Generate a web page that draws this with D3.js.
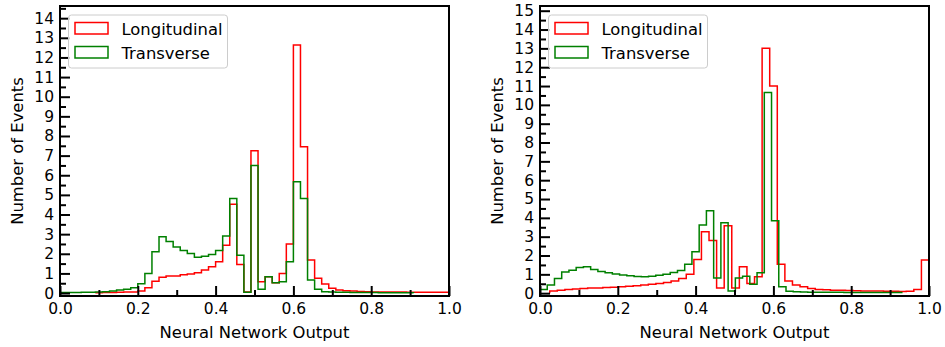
<!DOCTYPE html>
<html>
<head>
<meta charset="utf-8">
<script src="https://cdn.jsdelivr.net/npm/d3@7"></script>
<style>
body { margin:0; background:#fff; }
svg text { font-family:"DejaVu Sans", sans-serif; fill:#000; }
</style>
</head>
<body>
<div id="chart"></div>
<script>
//DATA
//bin ranges [start, end], 50 bins each
const leftRedRange    = [0.0909, 1.0];
const leftGreenRange  = [0.0, 0.9091];
const rightRedRange   = [0.025, 1.0];
const rightGreenRange = [0.0, 0.93];

const leftRed = [
  0.02, 0.03, 0.03, 0.04, 0.05, 0.06, 0.1, 0.27, 0.6, 0.8,
  0.87, 0.87, 0.93, 0.97, 1.03, 1.17, 1.34, 1.6, 2.44, 4.52,
  1.46, 0.05, 7.25, 0.58, 0.83, 0.53, 1.0, 2.5, 12.63, 7.45,
  1.68, 0.75, 0.46, 0.24, 0.15, 0.12, 0.1, 0.08, 0.07, 0.06,
  0.05, 0.05, 0.05, 0.05, 0.04, 0.04, 0.04, 0.04, 0.04, 0.04];
const leftGreen = [
  0.03, 0.03, 0.03, 0.04, 0.04, 0.05, 0.07, 0.1, 0.15, 0.2,
  0.27, 0.48, 1.0, 2.1, 2.87, 2.62, 2.35, 2.17, 2.02, 1.82,
  1.87, 1.97, 2.17, 2.9, 4.82, 1.93, 0.04, 6.5, 0.2, 0.83,
  0.53, 0.58, 1.6, 5.67, 4.82, 0.66, 0.2, 0.07, 0.05, 0.04,
  0.04, 0.03, 0.03, 0.03, 0.03, 0.02, 0.02, 0.02, 0.02, 0.02];
const rightRed = [
  0.12, 0.15, 0.2, 0.22, 0.25, 0.27, 0.28, 0.3, 0.32, 0.34,
  0.37, 0.4, 0.44, 0.48, 0.52, 0.57, 0.65, 0.78, 1.0, 1.79,
  3.26, 2.8, 0.28, 3.58, 0.28, 1.4, 0.52, 0.87, 13.0, 11.0,
  1.53, 0.64, 0.43, 0.34, 0.25, 0.2, 0.18, 0.16, 0.15, 0.14,
  0.13, 0.12, 0.12, 0.11, 0.1, 0.1, 0.09, 0.1, 0.2, 1.76];
const rightGreen = [
  0.2, 0.43, 0.78, 1.13, 1.22, 1.37, 1.4, 1.26, 1.15, 1.08,
  1.02, 0.97, 0.92, 0.88, 0.87, 0.9, 0.95, 1.0, 1.1, 1.2,
  1.53, 2.2, 3.62, 4.38, 0.81, 3.74, 0.12, 0.81, 0.9, 0.48,
  1.08, 10.65, 3.85, 0.34, 0.1, 0.07, 0.06, 0.05, 0.05, 0.05,
  0.05, 0.05, 0.04, 0.04, 0.04, 0.04, 0.04, 0.04, 0.04, 0.04];

const seriesNames = ["Longitudinal", "Transverse"];
const xTicks      = [0, 0.2, 0.4, 0.6, 0.8, 1.0];
const xMinorTicks = [0.1, 0.3, 0.5, 0.7, 0.9];
const leftYTicks  = d3.range(0, 15);
const rightYTicks = d3.range(0, 16);
const xLabel = "Neural Network Output";
const yLabel = "Number of Events";

//LAYOUT
const W = 945, H = 347;
const plotTop = 6, plotH = 290, plotW = 389;
const colors = ["#ff0000", "#008000"];

const svg = d3.select("#chart").append("svg")
  .attr("width", W).attr("height", H);

function drawPanel(x0, yMax, yTicks, red, redRange, green, greenRange){
  const g = svg.append("g").attr("transform", `translate(${x0},${plotTop})`);
  const x = d3.scaleLinear().domain([0, 1]).range([0, plotW]);
  const y = d3.scaleLinear().domain([-0.15, yMax]).range([plotH, 0]);

  //clip
  const id = "clip" + x0;
  g.append("clipPath").attr("id", id).append("rect")
    .attr("width", plotW).attr("height", plotH);

  //step histograms
  const line = d3.line().x(d => x(d[0])).y(d => y(d[1])).curve(d3.curveStepAfter);
  function steps(vals, range){
    const w = (range[1] - range[0]) / vals.length;
    const pts = [[range[0], 0]];
    vals.forEach((v, i) => pts.push([range[0] + i * w, v]));
    pts.push([range[1], 0]);
    return pts;
  }
  const hg = g.append("g").attr("clip-path", `url(#${id})`);
  [[red, redRange], [green, greenRange]].forEach((s, i) => {
    hg.append("path").attr("d", line(steps(s[0], s[1])))
      .attr("fill", "none").attr("stroke", colors[i]).attr("stroke-width", 1.5);
  });

  //axes, ticks inward
  g.append("g").attr("transform", `translate(0,${plotH})`)
    .call(d3.axisBottom(x).tickValues(xTicks).tickFormat(d3.format(".1f"))
      .tickSize(-10).tickPadding(7));
  g.append("g").attr("transform", `translate(0,${plotH})`)
    .call(d3.axisBottom(x).tickValues(xMinorTicks).tickFormat("").tickSize(-6));
  g.append("g")
    .call(d3.axisLeft(y).tickValues(yTicks).tickFormat(d3.format("d"))
      .tickSize(-10).tickPadding(6));
  g.append("g")
    .call(d3.axisLeft(y).tickValues(yTicks.map(t => t + 0.5).filter(t => t < yMax))
      .tickFormat("").tickSize(-6));
  g.selectAll(".domain").remove();
  g.selectAll(".tick line").attr("stroke", "#000").attr("stroke-width", 2);
  g.selectAll(".tick text").style("font-size", "15.5px");

  //frame
  g.append("rect").attr("width", plotW).attr("height", plotH)
    .attr("fill", "none").attr("stroke", "#000").attr("stroke-width", 2);

  //labels
  g.append("text").attr("x", plotW / 2).attr("y", 332)
    .attr("text-anchor", "middle").style("font-size", "16.4px").text(xLabel);
  g.append("text")
    .attr("transform", `translate(${-43},${plotH / 2}) rotate(-90)`)
    .attr("text-anchor", "middle").attr("dy", "0.35em")
    .style("font-size", "16.4px").text(yLabel);

  //legend
  const lg = g.append("g").attr("transform", "translate(8.5,9)");
  lg.append("rect").attr("width", 159).attr("height", 53).attr("rx", 3)
    .attr("fill", "#fff").attr("fill-opacity", 0.8)
    .attr("stroke", "#cccccc").attr("stroke-width", 1);
  seriesNames.forEach((n, i) => {
    lg.append("rect").attr("x", 6.5).attr("y", 7.5 + i * 24).attr("width", 33).attr("height", 11.5)
      .attr("fill", "none").attr("stroke", colors[i]).attr("stroke-width", 1.5);
    lg.append("text").attr("x", 53).attr("y", 19.5 + i * 24)
      .style("font-size", "16.4px").text(n);
  });
}

drawPanel(60, 14.62, leftYTicks, leftRed, leftRedRange, leftGreen, leftGreenRange);
drawPanel(540, 15.25, rightYTicks, rightRed, rightRedRange, rightGreen, rightGreenRange);
</script>
</body>
</html>
